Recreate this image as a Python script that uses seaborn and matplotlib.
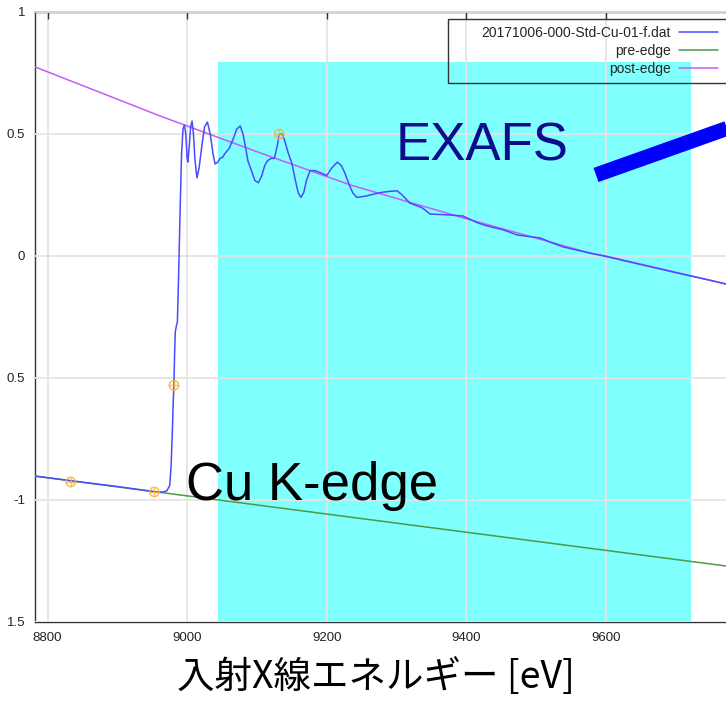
import matplotlib
matplotlib.use("Agg")
import matplotlib.pyplot as plt
import seaborn as sns
from matplotlib.lines import Line2D
from matplotlib.patches import Rectangle

# XAFS spectrum (Cu K-edge)
energy = [8782, 8833, 8900, 8953, 8965, 8971, 8975, 8977, 8979, 8980, 8981, 8982,
          8983, 8985, 8986, 8988, 8990, 8992, 8994, 8996, 8998, 9000, 9001, 9003,
          9005, 9007, 9009, 9011, 9014, 9017, 9021, 9025, 9029, 9033, 9037, 9040,
          9044, 9047, 9051, 9054, 9060, 9066, 9071, 9076, 9080, 9084, 9087, 9092,
          9097, 9102, 9107, 9111, 9115, 9120, 9125, 9129, 9132, 9136, 9140, 9145,
          9150, 9155, 9159, 9163, 9167, 9171, 9176, 9183, 9192, 9200, 9207, 9215,
          9221, 9226, 9231, 9237, 9243, 9255, 9262, 9277, 9290, 9301, 9308, 9319,
          9337, 9348, 9377, 9395, 9417, 9430, 9453, 9473, 9506, 9520, 9539, 9577,
          9600, 9650, 9700, 9750, 9792]
mu = [-0.902, -0.921, -0.945, -0.966, -0.968, -0.962, -0.94, -0.86, -0.70, -0.60, -0.53, -0.40,
      -0.31, -0.28, -0.27, -0.05, 0.20, 0.42, 0.52, 0.537, 0.50, 0.40, 0.385, 0.45,
      0.53, 0.553, 0.50, 0.40, 0.32, 0.36, 0.45, 0.53, 0.549, 0.50, 0.42, 0.377,
      0.385, 0.40, 0.405, 0.42, 0.44, 0.48, 0.52, 0.533, 0.50, 0.44, 0.39, 0.35,
      0.31, 0.30, 0.33, 0.37, 0.39, 0.40, 0.40, 0.45, 0.50, 0.50, 0.47, 0.42,
      0.38, 0.31, 0.26, 0.24, 0.26, 0.31, 0.35, 0.35, 0.34, 0.33, 0.36, 0.385,
      0.37, 0.34, 0.30, 0.26, 0.24, 0.245, 0.25, 0.26, 0.265, 0.267, 0.25, 0.217,
      0.197, 0.172, 0.168, 0.164, 0.135, 0.123, 0.107, 0.086, 0.074, 0.057, 0.037, 0.012,
      -0.002, -0.035, -0.068, -0.10, -0.128]

pre_x = [8782, 9792]
pre_y = [-0.902, -1.278]

post_x = [8782, 8961, 9105, 9234, 9391, 9577, 9600, 9772, 9792]
post_y = [0.775, 0.574, 0.422, 0.291, 0.160, 0.012, 0.0, -0.115, -0.128]

mark_x = [8833, 8953, 8981, 9132]
mark_y = [-0.926, -0.967, -0.53, 0.50]

exafs_range = (9044, 9722)
exafs_top = 0.795

xticks = [8800, 9000, 9200, 9400, 9600]
yticks = [-1.5, -1, -0.5, 0, 0.5, 1]
ytick_labels = ["1.5", "-1", "0.5", "0", "0.5", "1"]

BLUE = "#4b4bff"
GREEN = "#4a9a4a"
VIOLET = "#c35ef0"

sns.set_style("white")
plt.rcParams["font.family"] = ["Liberation Sans", "DejaVu Sans"]

W, H = 726, 702
fig = plt.figure(figsize=(W / 100, H / 100), dpi=100)
ax = fig.add_axes([35 / W, 80 / H, 705 / W, 610 / H])

ax.fill_between(list(exafs_range), [-1.5, -1.5], [exafs_top, exafs_top],
                color="#80ffff", lw=0, zorder=0)

sns.lineplot(x=post_x, y=post_y, ax=ax, color=VIOLET, lw=1.1, label="post-edge", zorder=3)
sns.lineplot(x=pre_x, y=pre_y, ax=ax, color=GREEN, lw=1.1, label="pre-edge", zorder=3)
sns.lineplot(x=energy, y=mu, ax=ax, color=BLUE, lw=1.1,
             label="20171006-000-Std-Cu-01-f.dat", zorder=4)
ax.scatter(mark_x, mark_y, s=45, facecolors="none", edgecolors="#f5b342",
           linewidths=1.2, alpha=0.8, zorder=5)
ax.scatter(mark_x, mark_y, s=45, marker="+", color="#f5b342",
           linewidths=1.0, alpha=0.8, zorder=5)

ax.set_xlim(8782, 9792)
ax.set_ylim(-1.5, 1.0)
ax.set_xticks(xticks)
ax.set_yticks(yticks)
ax.set_yticklabels(ytick_labels)
ax.grid(True, color="#e4e4e4", lw=1.3, zorder=1)
ax.set_axisbelow(False)
for ln in ax.get_xgridlines() + ax.get_ygridlines():
    ln.set_zorder(1)
ax.tick_params(direction="in", length=5, width=1, colors="#333333",
               labelsize=9.5, labelcolor="#222222", top=True, pad=7)
for s in ax.spines.values():
    s.set_color("#333333")
    s.set_linewidth(1)
ax.set_xlabel("")
ax.set_ylabel("")

# legend (gnuplot style: text right aligned, sample on the right)
h, l = ax.get_legend_handles_labels()
order = [2, 1, 0]
ax.legend([h[i] for i in order], [l[i] for i in order], loc="upper right",
          bbox_to_anchor=(718 / W, (H - 26) / H), bbox_transform=fig.transFigure,
          frameon=False, markerfirst=False, fontsize=10, handlelength=2.8,
          handletextpad=0.6, labelspacing=0.28, borderpad=0, borderaxespad=0)
fig.add_artist(Rectangle((448 / W, (H - 83) / H), 290 / W, 64 / H,
                         transform=fig.transFigure, fill=False,
                         ec="#333333", lw=1, zorder=6))

ax.text(9298, 0.393, "EXAFS", color="#0c0c8c", fontsize=38, va="baseline", zorder=6)
ax.text(8999, -1.0, "Cu K-edge", color="black", fontsize=38, va="baseline", zorder=6)

fig.add_artist(Line2D([596 / W, 745 / W], [(H - 175) / H, (H - 122) / H],
                      transform=fig.transFigure, color="#0000ff", lw=10.8,
                      solid_capstyle="butt"))

fig.text(376 / W, (H - 678) / H, "入射X線エネルギー [eV]", ha="center", va="center",
         fontsize=27, family=["Noto Sans CJK JP", "DejaVu Sans"], color="black")

fig.savefig("out.png", dpi=100)
